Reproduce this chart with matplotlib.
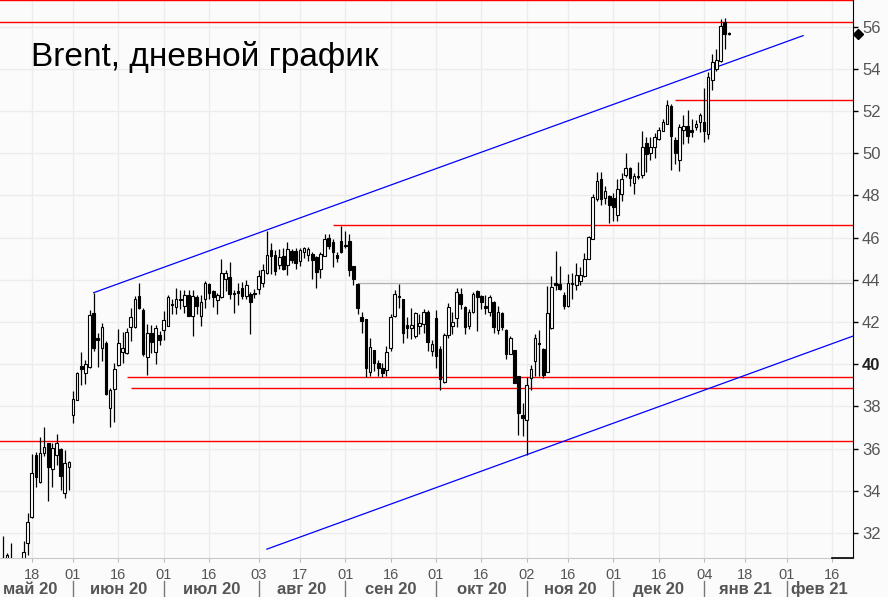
import numpy as np
import pandas as pd
import matplotlib
matplotlib.use("Agg")
import matplotlib.pyplot as plt
from matplotlib.transforms import blended_transform_factory

# trading days: weekdays without Christmas / New Year
first_day = "2020-05-07"
holidays = ["2020-12-25", "2021-01-01"]

# daily Brent candles, May 7 2020 .. Jan 12 2021
opens = [30.0, 30.3, 30.2, 29.9, 30.2, 30.6, 31.54, 32.77, 35.69, 34.44,
         35.82, 36.23, 35.03, 35.69, 35.97, 33.91, 35.15, 37.59, 38.32, 39.9,
         39.6, 39.87, 42.44, 41.25, 40.77, 40.98, 37.92, 38.83, 39.98, 40.61,
         40.53, 41.77, 41.77, 43.23, 42.55, 40.35, 41.49, 40.6, 41.36, 41.61,
         41.83, 42.85, 42.73, 43.1, 42.78, 43.29, 42.3, 43.16, 42.28, 43.1,
         43.77, 43.44, 43.05, 43.2, 44.05, 44.14, 43.36, 43.45, 43.58, 43.23,
         43.34, 43.36, 43.58, 43.86, 44.33, 45.4, 45.19, 44.73, 45.1, 44.73,
         45.36, 45.35, 44.89, 45.34, 45.2, 45.2, 45.08, 44.53, 45.15, 45.99,
         45.79, 45.15, 45.81, 45.66, 45.83, 44.65, 43.81, 42.25, 42.12, 39.66,
         40.65, 40.06, 39.82, 39.74, 40.77, 42.28, 43.24, 43.07, 41.83, 41.72,
         41.33, 41.83, 41.93, 42.47, 40.65, 42.17, 40.69, 39.16, 41.41, 41.83,
         42.2, 43.3, 42.68, 41.83, 42.47, 43.46, 43.23, 42.75, 42.47, 42.96,
         41.61, 42.44, 41.61, 40.49, 40.65, 39.43, 37.56, 37.37, 39.35, 40.14,
         41.0, 40.69, 39.66, 41.75, 43.82, 43.79, 43.26, 42.75, 43.79, 43.77,
         43.96, 44.18, 45.02, 45.95, 47.85, 48.75, 47.87, 47.95, 47.85, 47.1,
         48.06, 48.96, 49.28, 48.62, 48.92, 49.0, 50.46, 50.02, 50.3, 50.7,
         51.09, 51.41, 52.23, 50.62, 49.7, 51.13, 51.28, 51.09, 51.28, 51.49,
         51.49, 50.94, 53.5, 54.02, 54.38, 56.24, 55.7]
highs = [31.85, 31.05, 31.5, 30.6, 30.5, 31.6, 32.94, 35.75, 35.82, 36.55,
         37.02, 36.26, 36.26, 36.7, 36.02, 35.94, 35.43, 38.71, 39.62, 40.6,
         40.22, 42.55, 43.39, 41.49, 41.96, 41.09, 38.87, 40.06, 41.69, 41.51,
         41.72, 42.68, 43.23, 43.86, 42.65, 41.9, 41.87, 41.88, 41.58, 42.51,
         43.3, 43.07, 43.6, 43.5, 43.52, 43.5, 43.5, 43.29, 43.3, 43.94,
         43.86, 43.51, 43.39, 44.97, 44.45, 44.86, 43.5, 43.86, 43.89, 44.0,
         43.4, 43.58, 44.49, 44.73, 46.31, 45.76, 45.41, 45.44, 45.52, 45.79,
         45.44, 45.52, 45.52, 45.55, 45.55, 45.32, 45.13, 45.32, 46.16, 46.16,
         45.95, 45.31, 46.57, 46.31, 46.16, 44.68, 43.86, 42.47, 42.15, 41.25,
         40.66, 40.22, 40.06, 40.88, 42.39, 43.5, 43.81, 43.1, 42.23, 42.68,
         42.47, 42.39, 42.63, 42.59, 41.17, 42.59, 40.88, 41.49, 42.88, 42.47,
         43.59, 43.62, 42.78, 42.63, 43.42, 43.54, 43.3, 43.27, 43.3, 43.02,
         42.78, 42.47, 41.68, 41.33, 40.69, 39.46, 38.16, 39.38, 39.98, 41.41,
         41.61, 40.77, 43.7, 44.18, 45.36, 44.65, 43.42, 44.26, 44.34, 44.81,
         44.62, 45.28, 46.07, 48.09, 49.12, 49.12, 48.46, 48.0, 48.13, 48.77,
         49.05, 50.02, 49.33, 49.05, 49.6, 51.06, 50.78, 50.78, 50.94, 51.25,
         51.65, 52.53, 52.33, 50.78, 51.41, 51.8, 52.04, 51.65, 51.57, 51.89,
         53.1, 53.86, 54.73, 54.93, 56.35, 56.4, 55.75]
lows = [29.4, 30.0, 29.5, 29.3, 29.2, 30.2, 30.95, 32.7, 34.2, 34.39,
        35.63, 33.53, 34.2, 35.23, 34.04, 33.65, 34.04, 37.21, 38.29, 39.03,
        39.08, 39.82, 40.61, 39.87, 40.14, 38.56, 37.02, 37.24, 39.93, 40.06,
        40.5, 41.09, 41.72, 42.63, 40.4, 39.5, 40.54, 40.03, 40.9, 41.17,
        41.8, 42.36, 42.36, 42.6, 42.44, 42.36, 41.33, 42.36, 41.8, 42.68,
        43.07, 42.73, 42.36, 43.15, 43.46, 43.07, 42.44, 42.83, 43.07, 43.07,
        41.41, 43.15, 43.34, 43.67, 44.3, 44.3, 44.25, 44.53, 44.46, 44.25,
        44.81, 44.53, 44.65, 45.05, 44.89, 44.05, 43.59, 44.1, 45.13, 45.44,
        44.62, 44.84, 45.28, 45.52, 44.18, 43.75, 42.36, 41.49, 39.4, 39.43,
        39.66, 39.43, 39.4, 39.43, 40.61, 42.25, 42.68, 41.0, 41.25, 41.2,
        41.22, 41.41, 41.49, 40.61, 40.38, 39.82, 38.79, 39.11, 41.25, 41.41,
        41.77, 42.6, 41.41, 41.67, 42.44, 41.56, 42.63, 42.4, 42.28, 41.49,
        41.45, 41.64, 40.25, 40.46, 39.11, 36.66, 36.58, 35.71, 38.79, 39.43,
        39.43, 39.35, 39.61, 41.69, 43.54, 43.54, 42.63, 42.73, 43.07, 43.51,
        43.77, 44.15, 44.99, 45.92, 47.74, 47.55, 47.6, 46.7, 46.81, 46.79,
        47.74, 48.9, 48.44, 48.06, 48.77, 48.85, 49.11, 49.7, 49.8, 50.63,
        51.06, 51.38, 49.19, 49.51, 49.16, 50.44, 50.47, 50.78, 51.09, 51.01,
        50.52, 50.7, 53.02, 53.91, 54.34, 54.97, 55.62]
closes = [30.5, 30.95, 30.0, 30.2, 29.6, 31.1, 32.5, 34.84, 34.67, 35.79,
          36.07, 35.15, 36.0, 36.23, 34.7, 35.31, 35.37, 38.35, 39.59, 39.8,
          40.0, 42.34, 40.77, 41.15, 41.77, 38.59, 38.79, 39.74, 41.01, 40.74,
          41.51, 42.25, 43.1, 42.68, 40.5, 41.45, 41.04, 41.72, 41.17, 42.07,
          43.16, 42.8, 43.1, 43.06, 43.29, 42.3, 43.24, 42.75, 42.95, 43.82,
          43.4, 43.19, 43.29, 44.33, 44.33, 43.34, 43.32, 43.39, 43.23, 43.75,
          42.96, 43.32, 44.18, 44.48, 45.19, 45.12, 44.41, 45.05, 44.53, 45.44,
          44.97, 44.82, 45.41, 45.48, 45.44, 44.94, 44.38, 45.2, 45.91, 45.63,
          45.31, 45.05, 45.34, 45.6, 44.46, 44.07, 42.68, 42.04, 39.82, 40.82,
          40.09, 39.82, 39.61, 40.57, 42.25, 43.3, 43.18, 41.49, 41.74, 41.83,
          42.4, 41.95, 42.47, 41.04, 40.96, 40.38, 39.3, 41.36, 42.68, 42.0,
          43.42, 42.85, 41.77, 42.47, 43.34, 43.18, 42.96, 42.68, 43.2, 41.77,
          42.47, 41.77, 40.49, 41.25, 39.14, 37.69, 37.45, 39.0, 39.74, 41.25,
          40.96, 39.5, 42.44, 43.67, 43.77, 43.58, 42.78, 43.82, 43.86, 44.2,
          44.2, 45.0, 46.03, 47.9, 48.66, 47.85, 48.22, 47.58, 47.47, 48.29,
          48.77, 49.28, 48.85, 48.9, 48.88, 50.27, 49.98, 50.27, 50.78, 51.09,
          51.49, 52.28, 50.85, 50.03, 51.22, 51.28, 50.85, 51.01, 51.38, 51.8,
          51.06, 53.6, 54.34, 54.42, 56.03, 55.68, 55.68]

day_ticks = ["2020-05-18", "2020-06-01", "2020-06-16", "2020-07-01", "2020-07-16",
             "2020-08-03", "2020-08-17", "2020-09-01", "2020-09-16", "2020-10-01",
             "2020-10-16", "2020-11-02", "2020-11-16", "2020-12-01", "2020-12-16",
             "2021-01-04", "2021-01-18", "2021-02-01", "2021-02-16"]
day_labels = ["18", "01", "16", "01", "16", "03", "17", "01", "16", "01",
              "16", "02", "16", "01", "16", "04", "18", "01", "16"]
months = ["2020-05", "2020-06", "2020-07", "2020-08", "2020-09", "2020-10",
          "2020-11", "2020-12", "2021-01", "2021-02", "2021-03"]
month_labels = ["май 20", "июн 20", "июл 20", "авг 20", "сен 20",
                "окт 20", "ноя 20", "дек 20", "янв 21", "фев 21"]
y_ticks = [32, 34, 36, 38, 40, 42, 44, 46, 48, 50, 52, 54, 56]

# trend channel (date, price)
upper_line = [("2020-06-08", 43.39), ("2021-02-05", 55.58)]
lower_line = [("2020-08-05", 31.23), ("2021-02-26", 41.54)]

# horizontal levels: start date (None = whole chart), price
level_starts = [None, None, "2020-12-22", "2020-08-27", "2020-09-04",
                "2020-06-18", "2020-06-19", None]
level_prices = [57.26, 56.21, 52.51, 46.62, 43.87, 39.41, 38.87, 36.36]
level_colors = ["red", "red", "red", "red", "#b4b4b4", "red", "red", "red"]

title = "Brent, дневной график"

# ---------------------------------------------------------------------------
days = pd.bdate_range("2020-04-27", "2021-03-31")
days = days[~days.isin(pd.to_datetime(holidays))]


def pos(d):
    return int(days.searchsorted(pd.Timestamp(d)))


x0 = pos(first_day)
xs = np.arange(x0, x0 + len(closes))
jun1 = pos("2020-06-01")
xlim = (jun1 - 17.7, jun1 + 189.1)

plt.rcParams['font.family'] = ['Liberation Sans', 'DejaVu Sans']

fig = plt.figure(figsize=(8.88, 5.97), dpi=100)
fig.patch.set_facecolor('#fbfbfb')
ax = fig.add_axes([0, 39 / 597, 853 / 888, 558 / 597])
ax.set_facecolor('#fbfbfb')

o = np.array(opens)
c = np.array(closes)
up = c >= o
ax.vlines(xs, lows, highs, color='black', linewidth=0.9, zorder=3)
ax.bar(xs, np.abs(c - o) + 0.02, bottom=np.minimum(o, c) - 0.01, width=0.62,
       color=np.where(up, 'white', 'black'), edgecolor='black',
       linewidth=0.8, zorder=4)

for start, price, col in zip(level_starts, level_prices, level_colors):
    if start is None:
        ax.axhline(price, color=col, linewidth=1.0, zorder=2)
    else:
        ax.hlines(price, pos(start), xlim[1], color=col, linewidth=1.0, zorder=2)

for line in (upper_line, lower_line):
    ax.plot([pos(line[0][0]), pos(line[1][0])], [line[0][1], line[1][1]],
            color='#0000ff', linewidth=0.9, zorder=2)

ax.set_xlim(*xlim)
ax.set_ylim(30.81, 57.27)

tick_x = [pos(d) for d in day_ticks]
ax.set_xticks(tick_x)
ax.set_xticklabels(day_labels, fontsize=10.5, color='#555555')
ax.tick_params(axis='x', length=3, color='#bbbbbb', pad=4)

ax.yaxis.tick_right()
ax.set_yticks(y_ticks)
ax.set_yticklabels([str(v) for v in y_ticks], fontsize=12, color='#555555')
ax.tick_params(axis='y', length=3.5, color='black', width=1, pad=3)
for lab in ax.get_yticklabels():
    if lab.get_text() == "40":
        lab.set_fontweight('bold')
        lab.set_color('#222222')

ax.grid(True, color='#ececec', linewidth=1, zorder=0)
ax.set_axisbelow(True)

for side in ('top', 'left'):
    ax.spines[side].set_visible(False)
ax.spines['right'].set_color('black')
ax.spines['bottom'].set_color('#c8c8c8')
ax.plot([jun1 + 184, xlim[1]], [30.81, 30.81], color='black', linewidth=1.2,
        clip_on=False, zorder=5)

# month row
tr = blended_transform_factory(ax.transData, ax.transAxes)
starts = [pos(m + "-01") for m in months]
for i, lab in enumerate(month_labels):
    mid = (starts[i] + min(starts[i + 1], xlim[1])) / 2
    ax.text(mid, -0.0556, lab, transform=tr, ha='center', va='center',
            fontsize=12, fontweight='bold', color='#555555')
for s in starts[1:-1]:
    ax.plot([s, s], [-0.041, -0.070], transform=tr, color='#777777',
            linewidth=1, clip_on=False)

# last price marker
ax.plot([1.006], [closes[-1]], marker='D', markersize=5, color='black',
        transform=blended_transform_factory(ax.transAxes, ax.transData),
        clip_on=False)

ax.text(31 / 853, 0.8817, title, transform=ax.transAxes, fontsize=24,
        va='baseline', ha='left', color='black')

fig.savefig("out.png", dpi=100, facecolor=fig.get_facecolor())
